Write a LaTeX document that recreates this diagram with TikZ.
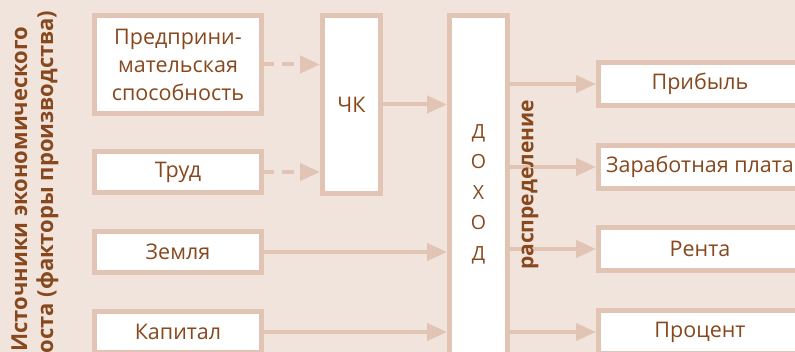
\documentclass[tikz,border=0pt]{standalone}
\usepackage{fontspec}
\setmainfont{Open Sans}
\usetikzlibrary{positioning,arrows.meta}
\definecolor{bgbeige}{RGB}{241,228,220}
\definecolor{boxtan}{RGB}{225,196,179}
\definecolor{ink}{RGB}{135,72,30}
\tikzset{
	box/.style={draw=boxtan, line width=5pt, fill=white, outer sep=0pt, inner sep=0pt,
		text=ink, font=\fontsize{21.5}{28}\selectfont, align=center},
	flow/.style={draw=boxtan, line width=4pt, -{Triangle[length=20pt,width=17pt]}, shorten >=2.5pt},
	dflow/.style={flow, dash pattern=on 12pt off 8pt},
}
\begin{document}
\begin{tikzpicture}[x=1pt,y=-1pt]
	\fill[bgbeige] (0,0) rectangle (795,352);
	\useasboundingbox (0,0) rectangle (795,352);

	\node[box, minimum width=167pt, minimum height=98pt] (pred) at (178,64.5) {Предприни-\\мательская\\способность};
	\node[box, minimum width=167pt, minimum height=41pt, below=38pt of pred] (trud) {Труд};
	\node[box, minimum width=167pt, minimum height=41pt, below=39pt of trud] (zem) {Земля};
	\node[box, minimum width=167pt, minimum height=41pt, below=39pt of zem] (kap) {Капитал};

	\node[box, minimum width=58pt, minimum height=178pt, right=61pt of pred.north east, anchor=north west] (chk) {ЧК};
	\node[box, minimum width=58pt, minimum height=357pt, right=69pt of chk.north east, anchor=north west,
		font=\fontsize{19.5}{30.5}\selectfont] (doh) {Д\\О\\Х\\О\\Д};

	\node[box, minimum width=203pt, minimum height=43pt] (prib) at (700,84) {Прибыль};
	\node[box, minimum width=203pt, minimum height=43pt, below=40pt of prib] (zar) {Заработная плата};
	\node[box, minimum width=203pt, minimum height=43pt, below=39pt of zar] (rent) {Рента};
	\node[box, minimum width=203pt, minimum height=43pt, below=40pt of rent] (proc) {Процент};

	\draw[dflow] (pred.east) -- (pred.east -| chk.west);
	\draw[dflow] (trud.east) -- (trud.east -| chk.west);
	\draw[flow] (chk.east) -- (chk.east -| doh.west);
	\draw[flow] (zem.east) -- (zem.east -| doh.west);
	\draw[flow] (kap.east) -- (kap.east -| doh.west);
	\foreach \t in {prib,zar,rent,proc}
		\draw[flow] (doh.east |- \t.west) -- (\t.west);

	\node[rotate=90, align=center, text=ink, font=\bfseries\fontsize{22}{26}\selectfont] (src) at (35,189)
		{Источники экономического\\роста (факторы производства)};
	\node[rotate=90, text=ink, font=\bfseries\fontsize{21}{24}\selectfont] (distr) at (530,185) {распределение};
\end{tikzpicture}
\end{document}
